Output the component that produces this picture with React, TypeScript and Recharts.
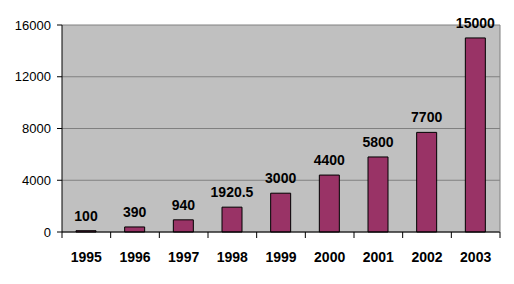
import React from "react";
import { BarChart, Bar, XAxis, YAxis, CartesianGrid, LabelList } from "recharts";

const years = ["1995", "1996", "1997", "1998", "1999", "2000", "2001", "2002", "2003"];
const values = [100, 390, 940, 1920.5, 3000, 4400, 5800, 7700, 15000];
const yTicks = [0, 4000, 8000, 12000, 16000];

const data = years.map((y, i) => ({ year: y, value: values[i] }));

const W = 514;
const H = 284;
const M = { top: 25, right: 14, bottom: 0, left: 0 };
const Y_W = 62;
const X_H = 52;
const PLOT_L = M.left + Y_W;
const PLOT_R = W - M.right;
const PLOT_T = M.top;
const BAND = (PLOT_R - PLOT_L) / years.length;
const FONT = "'Liberation Sans', Arial, sans-serif";

const XTick = (props: any) => {
  const { x, y, payload, index } = props;
  const last = index === years.length - 1;
  return (
    <g>
      <line x1={x - BAND / 2} y1={y} x2={x - BAND / 2} y2={y + 6} stroke="#000" />
      {last && (
        <>
          <line x1={x + BAND / 2} y1={y} x2={x + BAND / 2} y2={y + 6} stroke="#000" />
          <line x1={x + BAND / 2} y1={PLOT_T} x2={x + BAND / 2} y2={y} stroke="#808080" />
        </>
      )}
      <text x={x} y={y + 30} textAnchor="middle" fontFamily={FONT} fontSize={14} fontWeight="bold" fill="#000">
        {payload.value}
      </text>
    </g>
  );
};

export default function App() {
  return (
    <div style={{ position: "absolute", left: 0, top: 0, width: W, height: H, background: "#fff" }}>
      <BarChart width={W} height={H} data={data} margin={M} barSize={20}>
        <CartesianGrid vertical={false} stroke="#808080" fill="#C0C0C0" fillOpacity={1} />
        <XAxis
          dataKey="year"
          height={X_H}
          tickLine={false}
          tickSize={0}
          tickMargin={0}
          axisLine={{ stroke: "#000" }}
          tick={<XTick />}
          interval={0}
        />
        <YAxis
          width={Y_W}
          domain={[0, 16000]}
          ticks={yTicks}
          interval={0}
          axisLine={{ stroke: "#000" }}
          tickLine={{ stroke: "#000" }}
          tickSize={5}
          tickMargin={6}
          tick={{ fill: "#000", fontFamily: FONT, fontSize: 13 }}
        />
        <Bar dataKey="value" fill="#993366" stroke="#000" strokeWidth={1} isAnimationActive={false}>
          <LabelList
            dataKey="value"
            position="top"
            offset={10}
            fill="#000"
            fontFamily={FONT}
            fontSize={14}
            fontWeight="bold"
          />
        </Bar>
      </BarChart>
    </div>
  );
}
